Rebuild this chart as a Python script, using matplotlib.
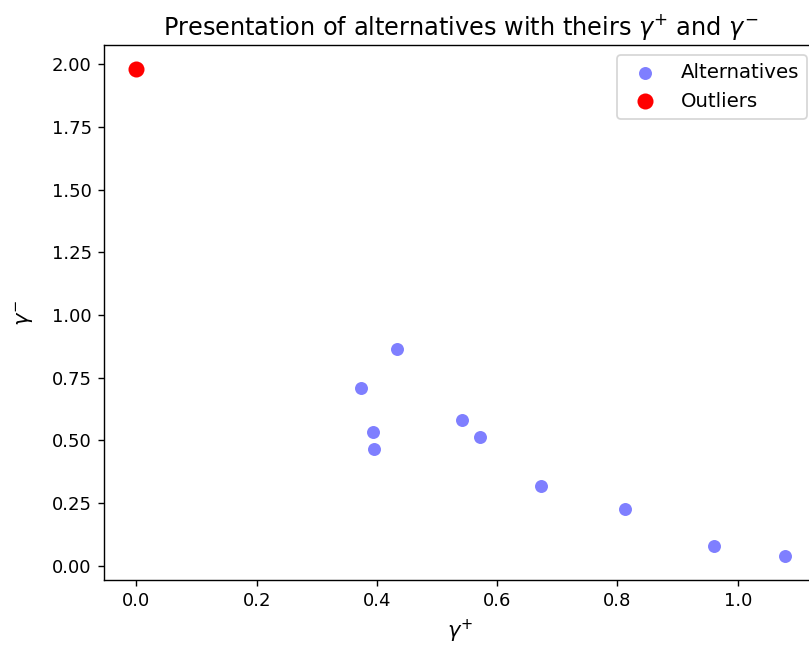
import matplotlib
matplotlib.use("Agg")
import matplotlib.pyplot as plt

alt_gamma_plus = [0.374, 0.434, 0.394, 0.395, 0.542, 0.571, 0.673, 0.812, 0.960, 1.078]
alt_gamma_minus = [0.709, 0.866, 0.533, 0.465, 0.581, 0.513, 0.317, 0.228, 0.080, 0.040]
out_gamma_plus = [0.0]
out_gamma_minus = [1.98]

dpi = 126
fig = plt.figure(figsize=(809 / dpi, 645 / dpi), dpi=dpi)
ax = fig.add_axes([104 / 809, 1 - 580 / 645, (817 - 104) / 809, (580 - 45) / 645])

ax.scatter(alt_gamma_plus, alt_gamma_minus, color="blue", alpha=0.5, s=55,
           linewidths=0, label="Alternatives")
ax.scatter(out_gamma_plus, out_gamma_minus, color="red", s=84, linewidths=0,
           label="Outliers")

ax.set_title(r"Presentation of alternatives with theirs $\gamma^{+}$ and $\gamma^{-}$",
             fontsize=13.7)
ax.set_xlabel(r"$\gamma^{+}$", fontsize=12)
ax.set_ylabel(r"$\gamma^{-}$", fontsize=12, labelpad=9)
ax.tick_params(labelsize=10.3)
ax.legend(loc="upper right", fontsize=11.3)

fig.savefig("out.png", dpi=dpi)
